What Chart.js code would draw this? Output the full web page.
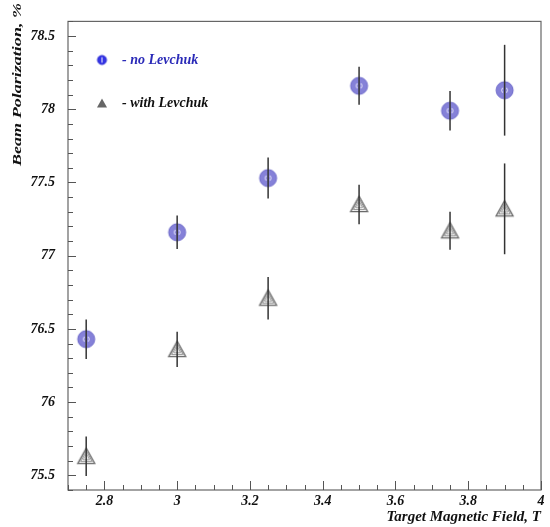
<!DOCTYPE html>
<html>
<head>
<meta charset="utf-8">
<script src="https://cdn.jsdelivr.net/npm/chart.js@4/dist/chart.umd.min.js"></script>
<style>
  html, body { margin: 0; padding: 0; background: #ffffff; }
  #wrap { width: 550px; height: 527px; }
</style>
</head>
<body>
<div id="wrap"><canvas id="c" width="550" height="527"></canvas></div>
<script>
// ---- data ----
const fieldT = [2.75, 3.0, 3.25, 3.5, 3.75, 3.9];
const noLevchuk = [76.43, 77.16, 77.53, 78.16, 77.99, 78.13];
const noLevchukErr = [0.135, 0.115, 0.14, 0.13, 0.135, 0.31];
const withLevchuk = [75.63, 76.36, 76.71, 77.35, 77.17, 77.32];
const withLevchukErr = [0.135, 0.12, 0.145, 0.135, 0.13, 0.31];
const seriesNames = ['- no Levchuk', '- with Levchuk'];
const xTicks = [2.8, 3.0, 3.2, 3.4, 3.6, 3.8, 4.0];
const yTicks = [75.5, 76, 76.5, 77, 77.5, 78, 78.5];
const xTitle = 'Target Magnetic Field, T';
const yTitle = 'Beam Polarization, %';

const FONT = '"Liberation Serif", "DejaVu Serif", serif';

// ---- marker images ----
function circleMarker(r, fill, stroke, inner) {
  const c = document.createElement('canvas');
  const s = Math.ceil(r * 2 + 4);
  c.width = s; c.height = s;
  const g = c.getContext('2d');
  const m = s / 2;
  g.beginPath(); g.arc(m, m, r, 0, Math.PI * 2);
  g.fillStyle = fill; g.fill();
  g.lineWidth = 1; g.strokeStyle = stroke; g.stroke();
  g.strokeStyle = '#f4f4ff';
  g.lineWidth = 1;
  if (inner) {
    g.beginPath(); g.arc(m + 1, m, r * 0.45, Math.PI * 0.78, Math.PI * 1.22); g.stroke();
    g.beginPath(); g.arc(m - 1, m, r * 0.45, -Math.PI * 0.22, Math.PI * 0.22); g.stroke();
  } else {
    g.beginPath(); g.moveTo(m, m - r * 0.6); g.lineTo(m, m + r * 0.6); g.stroke();
  }
  return c;
}
function triangleMarker(w, hatched) {
  const c = document.createElement('canvas');
  const s = w + 4;
  c.width = s; c.height = s;
  const g = c.getContext('2d');
  const cx = s / 2, cy = s / 2 + 1;
  const h = w * 0.9;
  function tri(k) {
    g.beginPath();
    g.moveTo(cx, cy - h * 0.6 * k);
    g.lineTo(cx - w / 2 * k, cy + h * 0.4 * k);
    g.lineTo(cx + w / 2 * k, cy + h * 0.4 * k);
    g.closePath();
  }
  if (hatched) {
    tri(1); g.fillStyle = '#ffffff'; g.fill();
    g.lineWidth = 1.3; g.strokeStyle = '#6a6a6a'; g.stroke();
    tri(0.68); g.lineWidth = 1; g.strokeStyle = '#8a8a8a'; g.stroke();
    tri(0.38); g.strokeStyle = '#9a9a9a'; g.stroke();
  } else {
    tri(1); g.fillStyle = '#666666'; g.fill();
  }
  return c;
}
const circleBig = circleMarker(8.5, '#8581d8', '#6a66c9', true);
const triBig = triangleMarker(17, true);
const circleSmall = circleMarker(4.5, '#3434e6', '#2a2ad0', false);
const triSmall = triangleMarker(10, false);

const errors = [noLevchukErr, withLevchukErr];

// ---- plugins ----
const framePlugin = {
  id: 'frameTicks',
  beforeDatasetsDraw(chart) {
    const {ctx, chartArea: a, scales: {x, y}} = chart;
    ctx.save();
    ctx.strokeStyle = '#666666';
    ctx.lineWidth = 1.2;
    ctx.strokeRect(a.left, a.top, a.right - a.left, a.bottom - a.top);
    ctx.lineWidth = 1;
    ctx.strokeStyle = '#555555';
    for (let k = Math.ceil(y.min * 10); k <= Math.floor(y.max * 10); k++) {
      const v = k / 10;
      const py = Math.round(y.getPixelForValue(v)) + 0.5;
      const major = k % 5 === 0;
      ctx.beginPath(); ctx.moveTo(a.left, py); ctx.lineTo(a.left + (major ? 8 : 5), py); ctx.stroke();
    }
    for (let k = Math.ceil(x.min * 20); k <= Math.floor(x.max * 20); k++) {
      const v = k / 20;
      const px = Math.round(x.getPixelForValue(v)) + 0.5;
      const major = k % 4 === 0;
      ctx.beginPath(); ctx.moveTo(px, a.bottom); ctx.lineTo(px, a.bottom - (major ? 9 : 5)); ctx.stroke();
    }
    ctx.restore();
  },
  afterDatasetsDraw(chart) {
    const {ctx, scales: {x, y}} = chart;
    ctx.save();
    ctx.strokeStyle = '#333333';
    ctx.lineWidth = 1.5;
    chart.data.datasets.forEach((ds, di) => {
      ds.data.forEach((p, i) => {
        const px = x.getPixelForValue(p.x);
        const y1 = y.getPixelForValue(p.y - errors[di][i]);
        const y2 = y.getPixelForValue(p.y + errors[di][i]);
        ctx.beginPath(); ctx.moveTo(px, y1); ctx.lineTo(px, y2); ctx.stroke();
      });
    });
    ctx.restore();
  },
  afterDraw(chart) {
    const {ctx} = chart;
    ctx.save();
    ctx.font = 'italic bold 13px ' + FONT;
    ctx.fillStyle = '#111111';
    const w = ctx.measureText(yTitle).width;
    ctx.translate(18, 3);
    ctx.rotate(-Math.PI / 2);
    ctx.scale(163 / w, 1);
    ctx.textAlign = 'right';
    ctx.textBaseline = 'middle';
    ctx.fillText(yTitle, 0, 0);
    ctx.restore();
  }
};

const tickFont = {family: FONT, size: 14, style: 'italic', weight: 'bold'};

new Chart(document.getElementById('c'), {
  type: 'scatter',
  data: {
    datasets: [
      {
        label: seriesNames[0],
        data: fieldT.map((v, i) => ({x: v, y: noLevchuk[i]})),
        pointStyle: circleBig,
        pointRadius: 8,
        showLine: false
      },
      {
        label: seriesNames[1],
        data: fieldT.map((v, i) => ({x: v, y: withLevchuk[i]})),
        pointStyle: triBig,
        pointRadius: 8,
        showLine: false
      }
    ]
  },
  options: {
    responsive: false,
    animation: false,
    devicePixelRatio: 1,
    layout: {padding: {left: 0, top: 13, right: 5, bottom: 0}},
    plugins: {
      tooltip: {enabled: false},
      legend: {
        position: 'chartArea',
        align: 'start',
        title: {display: true, text: ' ', font: {size: 15}, padding: {top: 14, bottom: 0}},
        labels: {
          usePointStyle: true,
          pointStyleWidth: 26,
          padding: 21,
          font: {family: FONT, size: 14, style: 'italic', weight: 'bold', lineHeight: 22 / 14},
          generateLabels() {
            return [
              {text: [seriesNames[0]], fontColor: '#2b2bb8', pointStyle: circleSmall, datasetIndex: 0, hidden: false, lineWidth: 0, strokeStyle: 'transparent', fillStyle: 'transparent'},
              {text: [seriesNames[1]], fontColor: '#111111', pointStyle: triSmall, datasetIndex: 1, hidden: false, lineWidth: 0, strokeStyle: 'transparent', fillStyle: 'transparent'}
            ];
          }
        }
      }
    },
    scales: {
      x: {
        type: 'linear',
        min: 2.7,
        max: 4.0,
        grid: {display: false, drawTicks: false},
        border: {display: false},
        afterBuildTicks(scale) { scale.ticks = xTicks.map(v => ({value: v})); },
        afterFit(scale) { scale.height = 37; },
        ticks: {
          padding: 3,
          color: '#111111',
          font: tickFont,
          callback: v => String(Number(v.toFixed(2)))
        },
        title: {display: true, text: xTitle, align: 'end', color: '#111111', font: {family: FONT, size: 15, style: 'italic', weight: 'bold'}, padding: {top: 0, bottom: 1}}
      },
      y: {
        type: 'linear',
        min: 75.4,
        max: 78.6,
        grid: {display: false, drawTicks: false},
        border: {display: false},
        afterBuildTicks(scale) { scale.ticks = yTicks.map(v => ({value: v})); },
        afterFit(scale) { scale.width = 68; },
        ticks: {
          padding: 13,
          color: '#111111',
          font: tickFont,
          callback: v => String(Number(v.toFixed(2)))
        }
      }
    }
  },
  plugins: [framePlugin]
});
</script>
</body>
</html>
